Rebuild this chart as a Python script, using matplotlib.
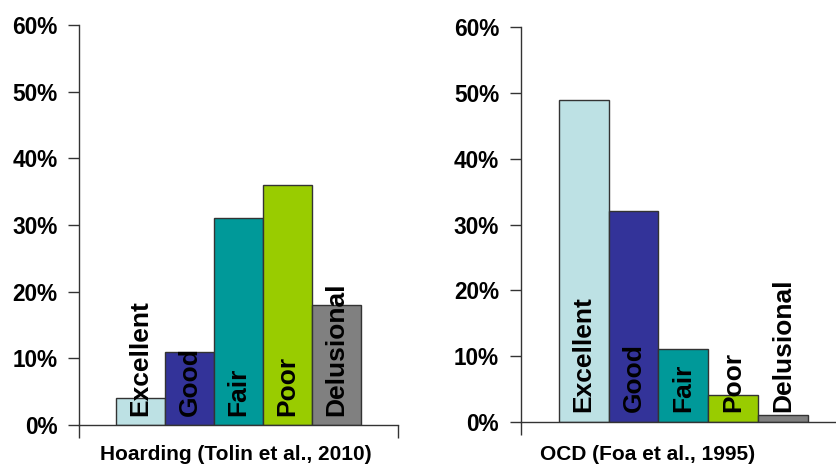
import matplotlib
matplotlib.use("Agg")
import matplotlib.pyplot as plt
from matplotlib.ticker import FuncFormatter

categories = ["Excellent", "Good", "Fair", "Poor", "Delusional"]
hoarding_values = [4, 11, 31, 36, 18]
ocd_values = [49, 32, 11, 4, 1]
colors = ["#BDE1E4", "#333399", "#009999", "#99CC00", "#808080"]
yticks = [0, 10, 20, 30, 40, 50, 60]
hoarding_title = "Hoarding (Tolin et al., 2010)"
ocd_title = "OCD (Foa et al., 1995)"

plt.rcParams['font.family'] = ['Liberation Sans', 'DejaVu Sans']
plt.rcParams['font.weight'] = 'bold'

W, H = 836, 470
fig = plt.figure(figsize=(W / 100, H / 100), dpi=100)


def px_axes(x0, x1, ytop, ybot):
    return fig.add_axes([x0 / W, (H - ybot) / H, (x1 - x0) / W, (ybot - ytop) / H])


def draw(ax, values, gap_frac, label_y):
    xs = list(range(len(values)))
    ax.bar(xs, values, width=1.0, color=colors, edgecolor="#333333", linewidth=1.0, zorder=2)
    ax.set_xlim(-0.5 - gap_frac, len(values) - 0.5 + gap_frac)
    ax.set_ylim(0, 60)
    ax.set_yticks(yticks)
    ax.yaxis.set_major_formatter(FuncFormatter(lambda v, p: f"{int(v)}%"))
    ax.set_xticks([-0.5 - gap_frac, len(values) - 0.5 + gap_frac])
    ax.set_xticklabels([])
    ax.tick_params(axis='x', direction='out', length=9, width=1, color="#333333")
    ax.tick_params(axis='y', direction='out', length=8, width=1, color="#333333",
                   labelsize=16.3, pad=7.5)
    for lab in ax.get_yticklabels():
        lab.set_fontweight('bold')
    for s in ["top", "right"]:
        ax.spines[s].set_visible(False)
    for s in ["left", "bottom"]:
        ax.spines[s].set_color("#333333")
        ax.spines[s].set_linewidth(1.0)
    for x, c in zip(xs, categories):
        ax.text(x, label_y, c, rotation=90, ha='center', va='bottom',
                fontsize=19, fontweight='bold', color='black', zorder=3)


ax1 = px_axes(79, 398, 25, 425)
draw(ax1, hoarding_values, 37 / 49, 1.3)

ax2 = px_axes(520.7, 845.7, 27.3, 421.7)
draw(ax2, ocd_values, 38 / 49.8, 1.5)

fig.text(236 / W, (H - 455) / H, hoarding_title, ha='center', va='center',
         fontsize=15, fontweight='bold')
fig.text(647.5 / W, (H - 455) / H, ocd_title, ha='center', va='center',
         fontsize=15, fontweight='bold')

fig.savefig("out.png", dpi=100)
